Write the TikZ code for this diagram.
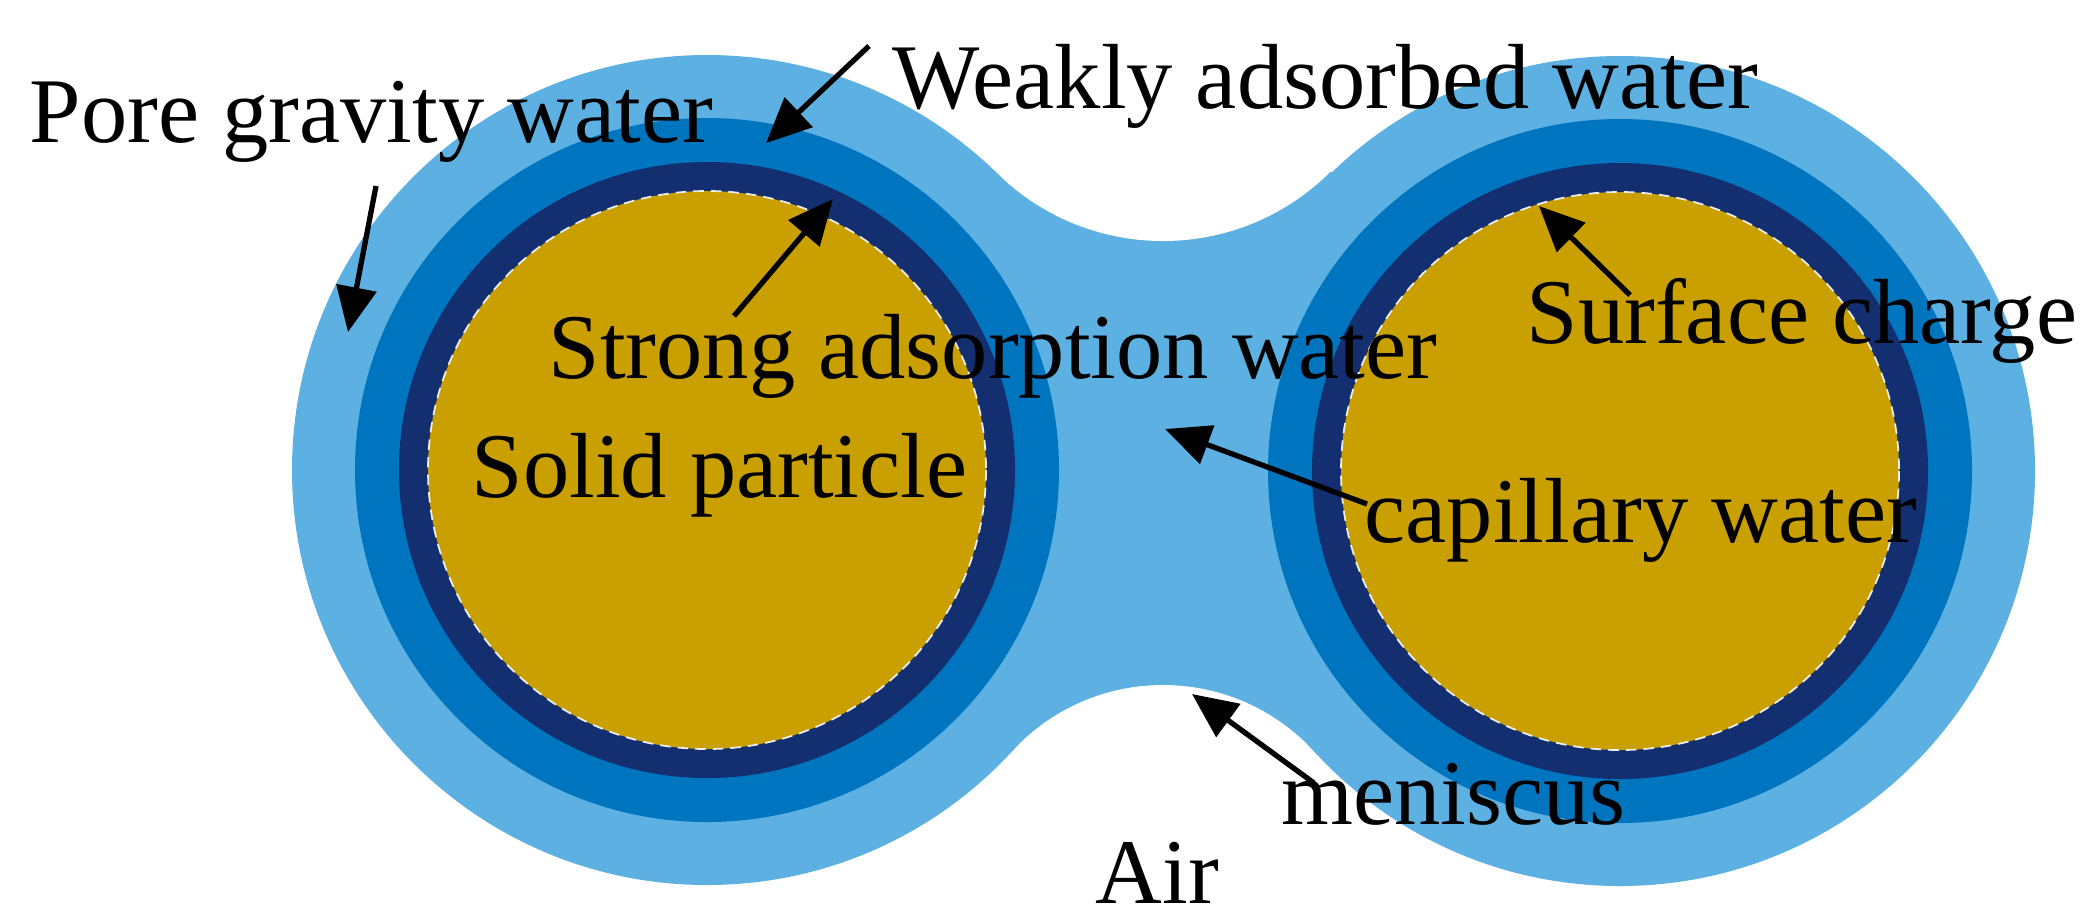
\documentclass[tikz,border=0pt]{standalone}
\usepackage{fontspec}
\setmainfont{Liberation Serif}
\usetikzlibrary{arrows.meta}
\definecolor{lb}{HTML}{5CB0E2}
\definecolor{mb}{HTML}{0075BF}
\definecolor{nv}{HTML}{132F70}
\definecolor{gd}{HTML}{C9A000}
\tikzset{lbl/.style={anchor=west,inner sep=0pt,font=\fontsize{26.3}{31}\selectfont},
 arr/.style={line width=1.5pt,-{Triangle[length=0.45cm,width=0.4cm]}},
 particle/.pic={
  \fill[lb] (0,0) circle (415);
  \fill[mb] (0,0) circle (352);
  \fill[nv] (0,0) circle (308);
  \fill[gd] (0,0) circle (279);
  \draw[white!85!gray,line width=0.5pt,dash pattern=on 3pt off 2pt] (0,0) circle (279);
 }}
\begin{document}
\begin{tikzpicture}[x=0.01cm,y=-0.01cm]
\useasboundingbox (0,0) rectangle (2080,923);
% neck
\fill[lb] (995,172) -- (1332,172) -- (1316,753) -- (1010,753) -- cycle;
\fill[white] (1163,4) circle (237);
\fill[white] (1163,890) circle (205);
\pic at (707,470) {particle};
\pic at (1620,471) {particle};
% labels
\node[lbl] (pg) at (29,122) {Pore gravity water};
\node[lbl] (wa) at (892,86) {Weakly adsorbed water};
\node[lbl] (sa) at (548,356) {Strong adsorption water};
\node[lbl] (sp) at (471,475) {Solid particle};
\node[lbl] (sc) at (1526,321) {Surface charge};
\node[lbl] (cw) at (1364,520) {capillary water};
\node[lbl] (me) at (1281,794) {meniscus};
\node[lbl] (air) at (1095,873) {Air};
% arrow targets
\coordinate (tpg) at (348,332);
\coordinate (twa) at (766,143);
\coordinate (tsa) at (833,199);
\coordinate (tsc) at (1539,206);
\coordinate (tcw) at (1165,429);
\coordinate (tme) at (1192,694);
\coordinate (spg) at (376,186);
\coordinate (swa) at (869,46);
\coordinate (ssa) at (734,316);
\coordinate (ssc) at (1630,295);
\coordinate (scw) at (1367,504);
\coordinate (sme) at (1314,783);
\draw[arr] (spg) -- (tpg);
\draw[arr] (swa) -- (twa);
\draw[arr] (ssa) -- (tsa);
\draw[arr] (ssc) -- (tsc);
\draw[arr] (scw) -- (tcw);
\draw[arr] (sme) -- (tme);
\end{tikzpicture}
\end{document}
